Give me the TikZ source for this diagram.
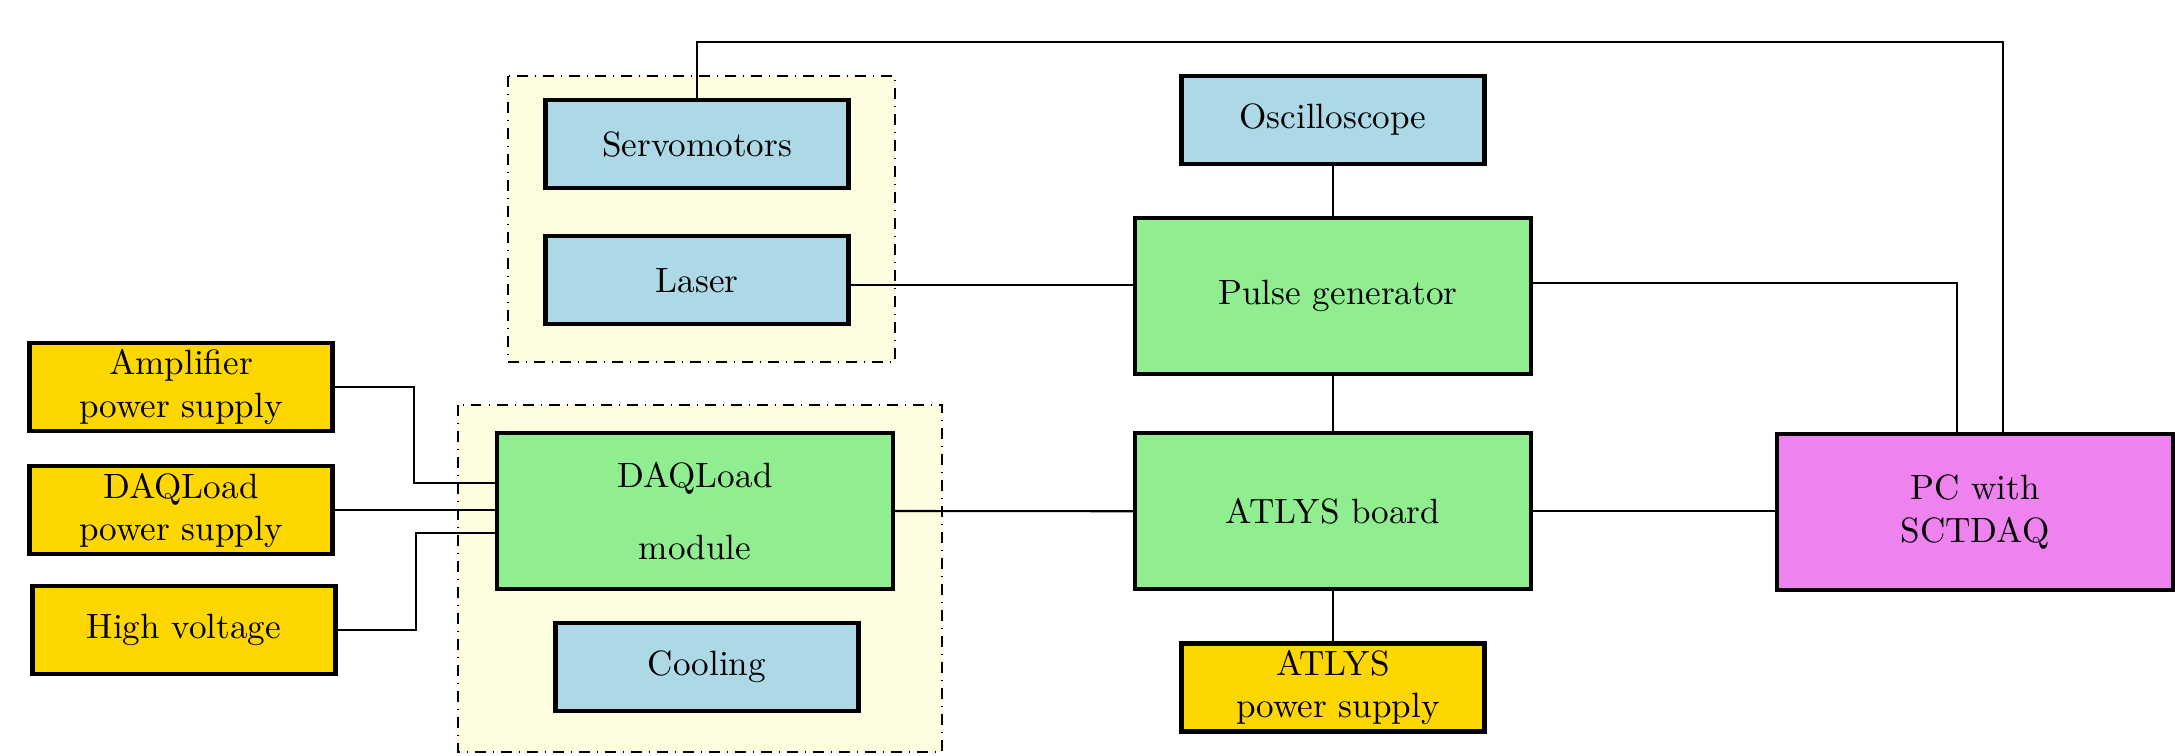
\documentclass[tikz,border=0pt]{standalone}
\usepackage{amsmath, amssymb, graphicx, tikz}
\usetikzlibrary{positioning, backgrounds}

\definecolor{boxblue}{RGB}{173,216,230}
\definecolor{boxgreen}{RGB}{144,238,144}
\definecolor{boxgold}{RGB}{255,215,0}
\definecolor{boxviolet}{RGB}{238,130,238}
\definecolor{groupyellow}{RGB}{255,253,224}

\tikzset{
    smallbox/.style={draw, very thick, minimum width=3.03cm, minimum height=0.88cm, inner ysep=1pt, align=center},
    bigbox/.style={draw, very thick, minimum width=3.96cm, minimum height=1.56cm, align=center},
    group/.style={draw, fill=groupyellow, dash dot, thin},
    wire/.style={semithick}
}

\begin{document}
\begin{tikzpicture}
    \useasboundingbox (0,0) rectangle (21.75,-7.55);

    % Scanning stage
    \node[smallbox, fill=boxblue] (servo) at (6.97,-1.44) {Servomotors};
    \node[smallbox, fill=boxblue, below=0.44cm of servo] (laser) {Laser};

    % Module under test
    \node[bigbox, fill=boxgreen] (daq) at (6.95,-5.11) {DAQLoad\\[0.3cm] module};
    \node[smallbox, fill=boxblue] (cooling) at (7.07,-6.67) {Cooling};

    % Supplies
    \node[smallbox, fill=boxgold] (amp) at (1.81,-3.87) {Amplifier\\ power supply\hspace{0.3cm}};
    \node[smallbox, fill=boxgold, below=0.31cm of amp] (daqps) {DAQLoad\hspace{0.1cm}\\ power supply};
    \node[smallbox, fill=boxgold] (hv) at (1.84,-6.30) {High voltage};

    % Readout chain
    \node[bigbox, fill=boxgreen] (pulse) at (13.33,-2.96) {\hspace{0.1cm}Pulse generator};
    \node[smallbox, fill=boxblue, above=0.50cm of pulse] (osc) {Oscilloscope};
    \node[bigbox, fill=boxgreen, below=0.55cm of pulse] (atlys) {ATLYS board};
    \node[smallbox, fill=boxgold, below=0.50cm of atlys] (atlysps) {ATLYS\\ \hspace{0.1cm}power supply};
    \node[bigbox, fill=boxviolet] (pc) at (19.75,-5.12) {PC with\\ SCTDAQ};

    % Groups
    \begin{scope}[on background layer]
        \draw[group] (5.08,-0.76) rectangle (8.95,-3.62);
        \draw[group] (4.58,-4.05) rectangle (9.42,-7.52);
    \end{scope}

    % Connections
    \draw[wire] (amp.east) -- ++(0.79,0) |- ([yshift=0.28cm]daq.west);
    \draw[wire] (daqps.east) -- (daqps.east -| daq.west);
    \draw[wire] (hv.east) -- ++(0.78,0) |- ([yshift=-0.22cm]daq.west);
    \draw[wire] ([yshift=-0.05cm]laser.east) -- ([yshift=-0.05cm]laser.east -| pulse.west);
    \draw[wire] (osc) -- (pulse);
    \draw[wire] (pulse) -- (atlys);
    \draw[wire] (atlys) -- (atlysps);
    \draw[wire] (daq.east) -- (atlys.west);
    \draw[wire] (atlys.east) -- (atlys.east -| pc.west);
    \draw[wire] ([yshift=0.13cm]pulse.east) -| ([xshift=-0.18cm]pc.north);
    \draw[wire] (servo.north) -- ++(0,0.56) -| ([xshift=0.28cm]pc.north);
\end{tikzpicture}
\end{document}
